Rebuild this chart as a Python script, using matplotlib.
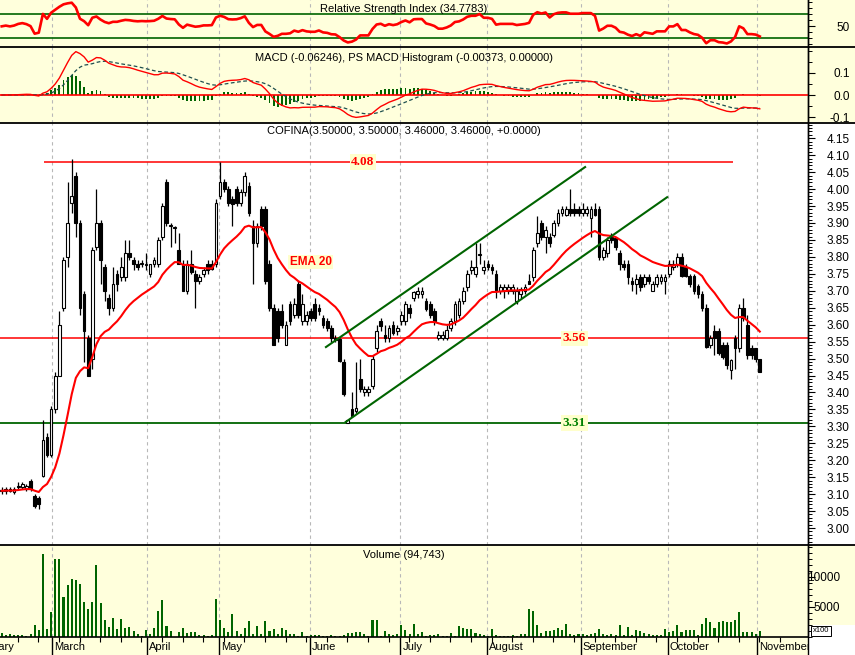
import numpy as np
import pandas as pd
import matplotlib
matplotlib.use("Agg")
import matplotlib.pyplot as plt
from matplotlib.patches import Rectangle
from matplotlib.lines import Line2D

# ---------------- data ----------------
opens = [3.11, 3.11, 3.115, 3.105, 3.12, 3.12, 3.115, 3.14, 3.095, 3.09,
         3.155, 3.27, 3.215, 3.35, 3.45, 3.65, 3.80, 3.96, 4.04, 3.90,
         3.69, 3.56, 3.50, 3.83, 3.90, 3.77, 3.68, 3.65, 3.75, 3.74,
         3.74, 3.81, 3.79, 3.78, 3.78, 3.775, 3.75, 3.78, 3.78, 3.86,
         4.02, 3.89, 3.885, 3.82, 3.78, 3.70, 3.78, 3.75, 3.73, 3.75,
         3.78, 3.78, 3.78, 3.98, 4.02, 4.00, 3.97, 4.00, 3.96, 3.99,
         4.01, 3.89, 3.84, 3.94, 3.94, 3.78, 3.65, 3.64, 3.64, 3.54,
         3.66, 3.63, 3.72, 3.61, 3.61, 3.64, 3.66, 3.65, 3.62, 3.61,
         3.59, 3.56, 3.557, 3.49, 3.31, 3.35, 3.345, 3.44, 3.40, 3.40,
         3.42, 3.53, 3.61, 3.57, 3.56, 3.60, 3.58, 3.61, 3.61, 3.65,
         3.68, 3.69, 3.69, 3.67, 3.66, 3.64, 3.56, 3.56, 3.56, 3.59,
         3.61, 3.63, 3.67, 3.71, 3.76, 3.75, 3.805, 3.76, 3.78, 3.77,
         3.75, 3.70, 3.70, 3.70, 3.70, 3.67, 3.69, 3.70, 3.73, 3.74,
         3.84, 3.90, 3.86, 3.86, 3.865, 3.90, 3.93, 3.925, 3.94, 3.94,
         3.94, 3.93, 3.93, 3.915, 3.94, 3.94, 3.80, 3.81, 3.86, 3.855,
         3.81, 3.78, 3.78, 3.73, 3.72, 3.74, 3.72, 3.74, 3.70, 3.72,
         3.73, 3.73, 3.75, 3.77, 3.78, 3.80, 3.77, 3.745, 3.745, 3.715,
         3.69, 3.65, 3.54, 3.58, 3.58, 3.54, 3.54, 3.465, 3.56, 3.53,
         3.65, 3.60, 3.53, 3.53, 3.50]
highs = [3.12, 3.12, 3.12, 3.12, 3.135, 3.135, 3.13, 3.145, 3.10, 3.095,
         3.32, 3.28, 3.36, 3.46, 3.64, 3.80, 4.02, 4.09, 4.05, 3.91,
         3.70, 3.57, 3.83, 4.00, 3.91, 3.78, 3.69, 3.77, 3.76, 3.80,
         3.85, 3.85, 3.80, 3.79, 3.79, 3.81, 3.78, 3.80, 3.86, 3.96,
         4.03, 3.90, 3.89, 3.87, 3.79, 3.79, 3.82, 3.76, 3.75, 3.77,
         3.79, 3.79, 3.97, 4.08, 4.03, 4.01, 3.98, 4.01, 4.00, 4.05,
         4.02, 3.91, 3.90, 3.95, 3.95, 3.79, 3.66, 3.65, 3.66, 3.61,
         3.67, 3.68, 3.73, 3.69, 3.64, 3.65, 3.68, 3.66, 3.63, 3.62,
         3.60, 3.57, 3.56, 3.50, 3.32, 3.40, 3.49, 3.50, 3.42, 3.42,
         3.51, 3.60, 3.62, 3.60, 3.60, 3.61, 3.60, 3.64, 3.67, 3.66,
         3.70, 3.71, 3.71, 3.68, 3.67, 3.65, 3.58, 3.58, 3.60, 3.62,
         3.67, 3.68, 3.71, 3.76, 3.79, 3.84, 3.84, 3.79, 3.79, 3.78,
         3.76, 3.72, 3.72, 3.72, 3.72, 3.71, 3.71, 3.72, 3.75, 3.83,
         3.92, 3.91, 3.89, 3.87, 3.91, 3.94, 3.95, 3.95, 4.00, 3.96,
         3.95, 3.96, 3.95, 3.95, 3.96, 3.95, 3.83, 3.86, 3.87, 3.86,
         3.82, 3.79, 3.79, 3.74, 3.75, 3.75, 3.75, 3.75, 3.73, 3.75,
         3.75, 3.75, 3.79, 3.79, 3.81, 3.81, 3.78, 3.75, 3.75, 3.72,
         3.70, 3.66, 3.57, 3.60, 3.59, 3.55, 3.55, 3.50, 3.57, 3.66,
         3.68, 3.63, 3.54, 3.53, 3.50]
lows = [3.10, 3.10, 3.105, 3.10, 3.115, 3.115, 3.11, 3.11, 3.06, 3.055,
        3.15, 3.21, 3.21, 3.34, 3.45, 3.64, 3.77, 3.93, 3.86, 3.63,
        3.49, 3.45, 3.47, 3.82, 3.72, 3.67, 3.63, 3.64, 3.70, 3.73,
        3.73, 3.79, 3.76, 3.76, 3.77, 3.76, 3.74, 3.77, 3.77, 3.85,
        3.89, 3.83, 3.84, 3.78, 3.70, 3.69, 3.75, 3.65, 3.72, 3.74,
        3.75, 3.76, 3.77, 3.97, 3.99, 3.95, 3.89, 3.95, 3.95, 3.98,
        3.92, 3.72, 3.83, 3.88, 3.72, 3.64, 3.54, 3.55, 3.59, 3.54,
        3.60, 3.62, 3.62, 3.60, 3.60, 3.61, 3.61, 3.63, 3.59, 3.58,
        3.55, 3.55, 3.49, 3.39, 3.31, 3.33, 3.34, 3.40, 3.39, 3.39,
        3.41, 3.52, 3.58, 3.55, 3.55, 3.57, 3.57, 3.60, 3.60, 3.62,
        3.67, 3.68, 3.68, 3.64, 3.62, 3.60, 3.555, 3.555, 3.555, 3.58,
        3.60, 3.62, 3.66, 3.70, 3.75, 3.74, 3.78, 3.75, 3.76, 3.75,
        3.68, 3.69, 3.68, 3.69, 3.69, 3.66, 3.68, 3.69, 3.72, 3.73,
        3.83, 3.85, 3.81, 3.83, 3.86, 3.89, 3.92, 3.92, 3.92, 3.92,
        3.92, 3.92, 3.92, 3.86, 3.92, 3.79, 3.79, 3.80, 3.84, 3.82,
        3.76, 3.76, 3.72, 3.70, 3.69, 3.70, 3.71, 3.72, 3.70, 3.71,
        3.72, 3.69, 3.74, 3.76, 3.77, 3.74, 3.74, 3.71, 3.69, 3.68,
        3.64, 3.53, 3.53, 3.51, 3.51, 3.50, 3.47, 3.44, 3.47, 3.52,
        3.61, 3.50, 3.50, 3.49, 3.46]
closes = [3.11, 3.115, 3.11, 3.115, 3.125, 3.13, 3.125, 3.115, 3.065, 3.07,
          3.26, 3.215, 3.35, 3.45, 3.60, 3.79, 3.90, 3.98, 3.90, 3.65,
          3.58, 3.45, 3.82, 3.90, 3.79, 3.70, 3.65, 3.72, 3.72, 3.77,
          3.81, 3.80, 3.78, 3.77, 3.78, 3.775, 3.78, 3.79, 3.85, 3.95,
          3.90, 3.89, 3.885, 3.78, 3.70, 3.78, 3.755, 3.73, 3.74, 3.76,
          3.76, 3.765, 3.96, 4.02, 4.00, 3.96, 3.955, 3.96, 3.99, 4.04,
          3.93, 3.84, 3.89, 3.89, 3.73, 3.65, 3.54, 3.56, 3.60, 3.60,
          3.61, 3.66, 3.63, 3.66, 3.63, 3.62, 3.62, 3.64, 3.60, 3.59,
          3.56, 3.555, 3.494, 3.395, 3.32, 3.33, 3.355, 3.41, 3.41, 3.41,
          3.50, 3.58, 3.595, 3.56, 3.59, 3.575, 3.59, 3.63, 3.66, 3.635,
          3.695, 3.70, 3.70, 3.645, 3.63, 3.61, 3.57, 3.57, 3.585, 3.61,
          3.66, 3.67, 3.70, 3.75, 3.77, 3.77, 3.805, 3.77, 3.77, 3.76,
          3.70, 3.71, 3.71, 3.71, 3.71, 3.70, 3.705, 3.71, 3.72, 3.82,
          3.87, 3.86, 3.88, 3.84, 3.90, 3.93, 3.94, 3.94, 3.93, 3.93,
          3.93, 3.94, 3.94, 3.94, 3.925, 3.80, 3.82, 3.85, 3.85, 3.83,
          3.78, 3.77, 3.74, 3.72, 3.735, 3.71, 3.74, 3.73, 3.72, 3.74,
          3.74, 3.74, 3.78, 3.78, 3.80, 3.745, 3.745, 3.72, 3.70, 3.69,
          3.65, 3.535, 3.56, 3.56, 3.515, 3.505, 3.48, 3.495, 3.53, 3.65,
          3.62, 3.51, 3.51, 3.50, 3.46]
volumes = [720, 280, 560, 330, 280, 390, 100, 440, 2050, 1100,
           13900, 1390, 4170, 13050, 12940, 6670, 8720, 9720, 9560, 8890,
           5830, 4610, 5830, 11940, 5720, 2780, 1670, 3220, 1280, 2940,
           1560, 1670, 1000, 440, 170, 1220, 500, 1440, 4280, 6110,
           1780, 1000, 50, 890, 1560, 670, 780, 780, 280, 390,
           170, 280, 6390, 2780, 1560, 780, 3780, 940, 440, 1440,
           2610, 440, 1890, 560, 2610, 1000, 1330, 440, 1560, 1220,
           440, 560, 220, 780, 110, 280, 390, 280, 170, 220,
           280, 220, 170, 330, 610, 670, 780, 780, 560, 170,
           2780, 2780, 220, 1000, 440, 330, 440, 1940, 1220, 440,
           2110, 440, 830,
           220, 330, 390, 500, 170, 110, 610, 220, 1780, 1560,
           1280, 1390, 720, 560, 390, 170, 1390, 280, 220, 170,
           220, 390, 170, 560, 560, 4610, 4280, 2050, 670, 940,
           940, 1220, 1560, 1100, 2110, 560, 330, 440, 560, 280,
           560, 670, 1390, 560, 390, 500, 330, 2000, 390, 1670,
           390, 1220, 1060, 670, 500, 280, 330, 280, 1280, 780,
           1000, 2050, 780, 1100, 1100, 1100, 330, 2220, 3110, 2500,
           1560, 2500, 2610, 2440, 2440, 2780, 4220, 780, 780, 780,
           440, 940]

month_names = ["February", "March", "April", "May", "June", "July",
               "August", "September", "October", "November"]
month_starts = [-8.5, 12.1, 35.2, 52.8, 74.8, 96.7, 117.7, 140.5, 161.6, 183.4]

price_ticks = [3.00, 3.05, 3.10, 3.15, 3.20, 3.25, 3.30, 3.35, 3.40, 3.45, 3.50,
               3.55, 3.60, 3.65, 3.70, 3.75, 3.80, 3.85, 3.90, 3.95, 4.00,
               4.05, 4.10, 4.15]
macd_ticks = [-0.1, 0.0, 0.1]
macd_tick_labels = ["-0.1", "0.0", "0.1"]
rsi_ticks = [50]
vol_ticks = [5000, 10000]

rsi_title = "Relative Strength Index (34.7783)"
macd_title = "MACD (-0.06246), PS MACD Histogram (-0.00373, 0.00000)"
price_title = "COFINA(3.50000, 3.50000, 3.46000, 3.46000, +0.0000)"
vol_title = "Volume (94,743)"

resistance_level = 4.08
resistance_span = [10.3, 177.5]
mid_level = 3.56
support_level = 3.31
channel_upper_x = [78.7, 141.6]
channel_upper_y = [3.534, 4.065]
channel_lower_x = [83.5, 161.5]
channel_lower_y = [3.313, 3.976]

# ---------------- indicators ----------------
cl = pd.Series(closes)
ema20 = cl.ewm(span=20, adjust=False).mean()
macd = cl.ewm(span=12, adjust=False).mean() - cl.ewm(span=26, adjust=False).mean()
signal = macd.ewm(span=9, adjust=False).mean()
hist = macd - signal

diff = cl.diff().fillna(0).values
avg_g, avg_l = 0.008, 0.008
rsi = []
for d in diff:
    g = max(d, 0)
    l = max(-d, 0)
    avg_g = (avg_g * 13 + g) / 14
    avg_l = (avg_l * 13 + l) / 14
    rsi.append(100 - 100 / (1 + avg_g / avg_l))
rsi = np.array(rsi)

n = len(closes)
idx = np.arange(n)

# ---------------- figure ----------------
W, H = 855, 655
YEL = "#FFFFDC"
GREEN = "#006400"
SANS = ["Liberation Sans", "DejaVu Sans"]
plt.rcParams["font.family"] = SANS

fig = plt.figure(figsize=(W / 100, H / 100), dpi=100, facecolor="white")


def rect(x0, y0, x1, y1):
    return [x0 / W, 1 - y1 / H, (x1 - x0) / W, (y1 - y0) / H]


def bg(x0, y0, x1, y1, color):
    fig.add_artist(Rectangle((x0 / W, 1 - y1 / H), (x1 - x0) / W, (y1 - y0) / H,
                             transform=fig.transFigure, fc=color, ec="none", zorder=0))


bg(808, 0, 855, 123, YEL)
bg(808, 545, 855, 625, YEL)

XL = (-0.41, 195.7)
ax_r = fig.add_axes(rect(0, 0, 808, 47), facecolor=YEL)
ax_m = fig.add_axes(rect(0, 47, 808, 123), facecolor=YEL)
ax_p = fig.add_axes(rect(0, 123, 808, 545), facecolor="white")
ax_v = fig.add_axes(rect(0, 545, 808, 637), facecolor=YEL)
ax_d = fig.add_axes(rect(0, 637, 808, 655), facecolor=YEL)

for ax in (ax_r, ax_m, ax_p, ax_v, ax_d):
    ax.set_xlim(*XL)
    for s in ("left", "top", "bottom"):
        ax.spines[s].set_visible(False)
    ax.spines["right"].set_color("black")
    ax.spines["right"].set_linewidth(1.0)
    ax.set_xticks([])
    ax.yaxis.tick_right()
    ax.tick_params(axis="y", direction="out", length=5, width=0.8, labelsize=8.5,
                   pad=25)
    ax.tick_params(axis="y", which="minor", direction="out", length=3, width=0.7)

for ax in (ax_r, ax_m, ax_p, ax_v):
    for m in month_starts[1:]:
        ax.axvline(m, color="#b8b8b8", ls=(0, (3, 3)), lw=0.8, zorder=0.5)

# RSI
ax_r.set_ylim(15.5, 94)
ax_r.axhline(70, color=GREEN, lw=1.2, zorder=1)
ax_r.axhline(30, color=GREEN, lw=1.2, zorder=1)
ax_r.plot(idx, rsi, color="red", lw=1.9, zorder=3)
ax_r.set_yticks(rsi_ticks)
ax_r.set_yticklabels(["50"], ha="right")
ax_r.set_yticks(np.arange(20, 95, 10), minor=True)
ax_r.text(0.5, 0.80, rsi_title, transform=ax_r.transAxes,
          ha="center", va="center", fontsize=8)

# MACD
ax_m.set_ylim(-0.127, 0.218)
ax_m.bar(idx, hist.values, width=0.45, color=GREEN, zorder=2)
ax_m.axhline(0, color="red", lw=1.2, zorder=3)
ax_m.plot(idx, signal.values, color="#1f4f4f", lw=0.9, ls=(0, (3, 2)), zorder=3)
ax_m.plot(idx, macd.values, color="red", lw=1.0, zorder=4)
ax_m.set_yticks(macd_ticks)
ax_m.set_yticklabels(macd_tick_labels, ha="right")
ax_m.set_yticks(np.arange(-0.1, 0.21, 0.05), minor=True)
ax_m.text(0.5, 0.855, macd_title, transform=ax_m.transAxes,
          ha="center", va="center", fontsize=8)

# Price
ax_p.set_ylim(2.95, 4.195)
o = np.array(opens); h = np.array(highs); lo = np.array(lows); c = np.array(closes)
ax_p.vlines(idx, lo, h, color="black", lw=0.9, zorder=3)
up = c >= o
body_b = np.minimum(o, c)
body_h = np.maximum(np.abs(c - o), 0.003)
ax_p.bar(idx[up], body_h[up], bottom=body_b[up], width=0.66, color="white",
         edgecolor="black", lw=0.8, zorder=4)
ax_p.bar(idx[~up], body_h[~up], bottom=body_b[~up], width=0.66, color="black",
         edgecolor="black", lw=0.8, zorder=4)
ax_p.plot(idx, ema20.values, color="red", lw=1.5, zorder=5)

ax_p.hlines(resistance_level, resistance_span[0], resistance_span[1], color="red", lw=1.1, zorder=2)
ax_p.axhline(mid_level, color="red", lw=1.1, zorder=2)
ax_p.axhline(support_level, color=GREEN, lw=1.3, zorder=2)
ax_p.plot(channel_upper_x, channel_upper_y, color=GREEN, lw=1.5, zorder=6)
ax_p.plot(channel_lower_x, channel_lower_y, color=GREEN, lw=1.5, zorder=6)

lab_kw = dict(fontsize=9.5, fontweight="bold", family=["Liberation Serif", "DejaVu Serif"],
              ha="center", va="center", zorder=7,
              bbox=dict(boxstyle="square,pad=0.12", fc="#FFFFCC", ec="none"))
ax_p.text(87.7, resistance_level, "%.2f" % resistance_level, color="red", **lab_kw)
ax_p.text(139.0, mid_level, "%.2f" % mid_level, color="red", **lab_kw)
ax_p.text(139.0, support_level, "%.2f" % support_level, color="green", **lab_kw)
ax_p.text(75.0, 3.785, "EMA 20", color="red", fontsize=8.5, fontweight="bold",
          ha="center", va="center", zorder=7,
          bbox=dict(boxstyle="square,pad=0.12", fc="#FFFFCC", ec="none"))

ax_p.set_yticks(price_ticks)
ax_p.set_yticklabels(["%.2f" % t for t in price_ticks], ha="right")
ax_p.set_yticks(np.arange(2.95, 4.20, 0.01), minor=True)
ax_p.text(0.5, 0.981, price_title,
          transform=ax_p.transAxes, ha="center", va="center", fontsize=8)

# Volume
ax_v.set_ylim(0, 15333)
ax_v.bar(idx, volumes, width=0.5, color=GREEN, zorder=2)
ax_v.set_yticks(vol_ticks)
ax_v.set_yticklabels([str(v) for v in vol_ticks], ha="right")
ax_v.tick_params(axis="y", pad=18)
ax_v.set_yticks(np.arange(0, 15001, 1000), minor=True)
ax_v.text(0.5, 0.89, vol_title,
          transform=ax_v.transAxes, ha="center", va="center", fontsize=8)

# date strip
ax_d.set_ylim(0, 1)
ax_d.set_yticks([])
ax_d.spines["right"].set_visible(False)
ax_d.vlines(month_starts, 0, 1, color="black", lw=1.0)
week_pos = np.arange(-1.1, 190, 5)
ax_d.vlines(week_pos, 0.72, 1, color="black", lw=0.8)
for m, name in zip(month_starts, month_names):
    ax_d.text(m + 0.55, 0.42, name, ha="left", va="center", fontsize=8, clip_on=True)

# x100 box
fig.text(821 / W, 1 - 631 / H, "x100", fontsize=5.5, ha="center", va="center",
         bbox=dict(boxstyle="square,pad=0.2", fc="white", ec="black", lw=0.7))

# separators
for y in (47, 123, 545):
    fig.add_artist(Line2D([0, 1], [1 - y / H, 1 - y / H], transform=fig.transFigure,
                          color="black", lw=1.3, zorder=10))
fig.add_artist(Line2D([0, 808 / W], [1 - 637 / H, 1 - 637 / H], transform=fig.transFigure,
                      color="black", lw=1.2, zorder=10))
fig.add_artist(Line2D([808 / W, 808 / W], [1 - 655 / H, 1], transform=fig.transFigure,
                      color="black", lw=1.0, zorder=10))

fig.savefig("out.png", dpi=100, facecolor="white")
